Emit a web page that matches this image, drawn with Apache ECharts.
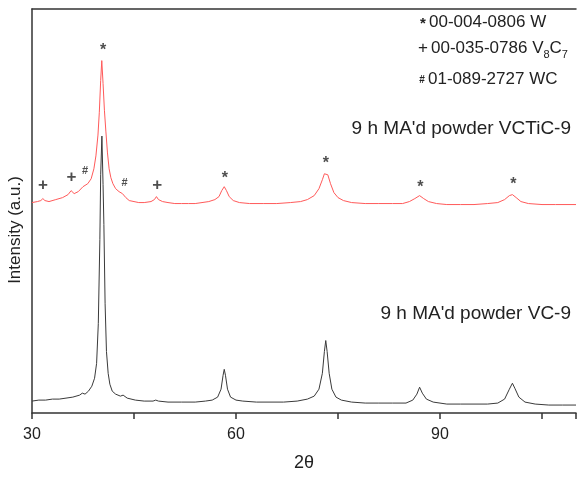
<!DOCTYPE html>
<html><head><meta charset="utf-8">
<script src="https://cdn.jsdelivr.net/npm/echarts@6/dist/echarts.min.js"></script>
<style>html,body{margin:0;padding:0;background:#fff}#c{width:579px;height:477px}</style>
</head><body><div id="c"></div>
<script>
// 9 h MA'd powder VCTiC-9 (red, offset upward)
const twoThetaVCTiC = [30.0,30.8,31.3,31.6,31.9,32.5,33.5,34.5,35.3,35.75,36.2,36.8,37.5,38.2,38.7,39.1,39.4,39.7,39.9,40.1,40.26,40.45,40.65,40.86,41.1,41.34,41.6,41.9,42.3,42.8,43.3,43.8,44.3,45.0,45.7,46.5,47.5,48.0,48.3,48.6,49.2,50,51,52,53,54,55,56,56.9,57.5,57.9,58.27,58.6,59.0,59.6,60.5,62,64,66,68,69.5,70.5,71.5,72.2,72.7,73.0,73.2,73.5,73.9,74.4,75.0,75.8,77,79,81,83,84.5,85.5,86.3,87.0,87.6,88.3,89.5,91,93,95,97,98.5,99.5,100.2,100.65,101.2,101.9,103,105,107,110];
const intensityVCTiC = [212,213,214,216,214,213,215,217,220,224,221,223,228,231,236,246,259,280,303,335,355,332,305,284,262,246,237,231,226,223,221,217,214,213,212,212,213,215,218,215,213,212,211,211,211,211,212,213,215,218,224,228,224,218,214,212,211,211,211,212,213,215,219,226,235,241,243,240,231,222,217,214,212,211,211,211,211,213,216,219,216,213,211,210,210,210,211,212,215,219,220,217,213,211,210,210,210];
// 9 h MA'd powder VC-9 (black)
const twoThetaVC = [30.0,31,32,33,34,35,36,37.0,37.4,37.8,38.3,38.8,39.2,39.5,39.75,39.98,40.1,40.28,40.45,40.57,40.75,40.95,41.2,41.45,41.8,42.3,43.0,43.4,44.0,45.2,46.5,47.8,48.2,48.6,50,52,54,55.5,56.5,57.3,57.8,58.1,58.27,58.45,58.75,59.2,60,61,63,65,67,69,70.5,71.5,72.2,72.7,73.0,73.2,73.4,73.7,74.1,74.7,75.5,77,79,81,83,85,86.0,86.6,87.0,87.4,88.0,89,91,93,95,97,98.5,99.5,100.2,100.65,101.0,101.6,102.5,104,106,108,110];
const intensityVC = [12,13,13,14,14,15,16,18,20,19,22,27,35,50,90,175,240,279,230,190,110,62,40,29,22,19,17,18,15,13,12,12,13,12,11,11,11,12,13,16,24,38,44,38,24,16,13,12,11,11,11,12,14,17,24,40,62,73,62,40,24,16,13,11,10,10,10,10,13,19,26,20,14,11,9,9,9,9,10,14,24,30,25,16,11,9,8,8,8];
// phase markers
const starX = [40.45, 58.35, 73.2, 87.1, 100.8];
const starY = [368, 239, 254, 230, 233];
const plusX = [31.6, 35.8, 48.4];
const plusY = [229, 237, 229];
const hashX = [37.8, 43.6];
const hashY = [244, 232];
const xTickLabels = [30, 60, 90];

const chart = echarts.init(document.getElementById('c'));
const FONT = '"Liberation Sans", Arial, sans-serif';
const pair = (xs, ys) => xs.map((x, i) => [x, ys[i]]);
const markerSeries = (xs, ys, ch, size, weight, dy) => ({
  type: 'scatter', symbolSize: 0, silent: true,
  data: xs.map((x, i) => [x, ys[i]]),
  label: { show: true, position: 'inside', formatter: ch, color: '#222',
    fontFamily: FONT, fontSize: size, fontWeight: weight, offset: [0, dy] }
});
const axisLine = { show: true, lineStyle: { color: '#333', width: 1.5 } };
chart.setOption({
  animation: false,
  backgroundColor: '#fff',
  grid: { left: 32, right: 0, top: 9, bottom: 60 },
  xAxis: [{
    type: 'value', min: 30, max: 110, interval: 15,
    axisLine: axisLine,
    axisTick: { show: true, length: 6, lineStyle: { color: '#333', width: 1.5 } },
    splitLine: { show: false },
    axisLabel: { margin: 14, color: '#222', fontFamily: FONT, fontSize: 16,
      formatter: v => xTickLabels.indexOf(v) >= 0 ? String(v) : '' },
    name: '2θ', nameLocation: 'middle', nameGap: 41,
    nameTextStyle: { color: '#222', fontFamily: FONT, fontSize: 18 }
  }, {
    type: 'value', min: 30, max: 110, position: 'top',
    axisLine: axisLine, axisTick: { show: false }, axisLabel: { show: false },
    splitLine: { show: false }
  }],
  yAxis: {
    type: 'value', min: 0, max: 407,
    axisLine: axisLine, axisTick: { show: false }, axisLabel: { show: false },
    splitLine: { show: false }
  },
  graphic: [
    { type: 'text', x: 15.5, y: 230, rotation: Math.PI / 2,
      style: { text: 'Intensity (a.u.)', font: '17px ' + FONT, fill: '#222',
        textAlign: 'center', textVerticalAlign: 'middle' } },
    { type: 'text', x: 571, y: 129,
      style: { text: "9 h MA'd powder VCTiC-9", font: '19px ' + FONT, fill: '#222',
        textAlign: 'right', textVerticalAlign: 'middle' } },
    { type: 'text', x: 571, y: 314,
      style: { text: "9 h MA'd powder VC-9", font: '19px ' + FONT, fill: '#222',
        textAlign: 'right', textVerticalAlign: 'middle' } },
    { type: 'text', x: 423, y: 24,
      style: { text: '*', font: 'bold 15px ' + FONT, fill: '#222', textAlign: 'center', textVerticalAlign: 'middle' } },
    { type: 'text', x: 429, y: 22,
      style: { text: '00-004-0806 W', font: '17px ' + FONT, fill: '#222', textVerticalAlign: 'middle' } },
    { type: 'text', x: 423, y: 48,
      style: { text: '+', font: '17px ' + FONT, fill: '#222', textAlign: 'center', textVerticalAlign: 'middle' } },
    { type: 'text', x: 431, y: 48,
      style: { rich: { n: { fontSize: 17, fontFamily: FONT, fill: '#222' },
                       s: { fontSize: 11, fontFamily: FONT, fill: '#222', padding: [13, 0, 0, 0] } },
               text: '{n|00-035-0786 V}{s|8}{n|C}{s|7}', textVerticalAlign: 'middle' } },
    { type: 'text', x: 422, y: 80,
      style: { text: '#', font: 'bold 10px ' + FONT, fill: '#222', textAlign: 'center', textVerticalAlign: 'middle' } },
    { type: 'text', x: 428, y: 79,
      style: { text: '01-089-2727 WC', font: '17px ' + FONT, fill: '#222', textVerticalAlign: 'middle' } }
  ],
  series: [
    { type: 'line', data: pair(twoThetaVC, intensityVC), showSymbol: false, symbol: 'none',
      lineStyle: { color: '#3a3a3a', width: 1 }, silent: true },
    { type: 'line', data: pair(twoThetaVCTiC, intensityVCTiC), showSymbol: false, symbol: 'none',
      lineStyle: { color: '#ff5a5a', width: 1 }, silent: true },
    markerSeries(starX, starY, '*', 16, 'bold', 3),
    markerSeries(plusX, plusY, '+', 17, 'bold', 0),
    markerSeries(hashX, hashY, '#', 11, 'bold', 0)
  ]
});
</script></body></html>
